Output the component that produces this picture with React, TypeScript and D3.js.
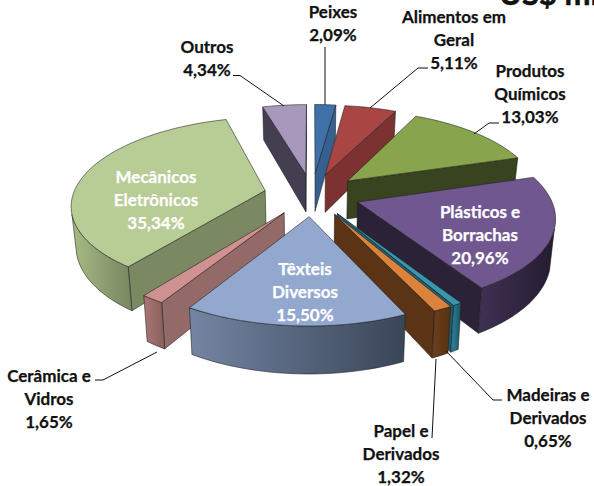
import React from "react";
import * as d3 from "d3";

const categories = [
  "Peixes", "Alimentos em Geral", "Produtos Químicos", "Plásticos e Borrachas",
  "Madeiras e Derivados", "Papel e Derivados", "Têxteis Diversos",
  "Cerâmica e Vidros", "Mecânicos Eletrônicos", "Outros",
];
const values = [2.09, 5.11, 13.03, 20.96, 0.65, 1.32, 15.5, 1.65, 35.34, 4.34];
const topColors = ["#3f70a8", "#a94543", "#88a44d", "#71578f", "#3a96ad", "#dc833b", "#92a8ce", "#d09291", "#b8cc95", "#a898bc"];
const sideColors = ["#35608f", "#7b3231", "#38431f", "#2b2238", "#1f5f70", "#5b3416", "#4f5d75", "#946a69", "#7a8962", "#433e50"];
const wallLight = ["#3c6ca0", "#8a3a38", "#5b7033", "#3e3052", "#2a7a8f", "#6a3e1b", "#7485a3", "#ab7775", "#a6bb84", "#55506a"];
const wallDark = ["#2f5580", "#682a29", "#2f381a", "#241c30", "#1a5060", "#55300f", "#394557", "#8c6260", "#7a8962", "#3a3646"];
const drawOrder = [9, 0, 1, 2, 8, 3, 4, 5, 7, 6];

const labelLines = [
  ["Peixes", "2,09%"], ["Alimentos em", "Geral", "5,11%"], ["Produtos", "Químicos", "13,03%"],
  ["Plásticos e", "Borrachas", "20,96%"], ["Madeiras e", "Derivados", "0,65%"], ["Papel e", "Derivados", "1,32%"],
  ["Têxteis", "Diversos", "15,50%"], ["Cerâmica e", "Vidros", "1,65%"], ["Mecânicos", "Eletrônicos", "35,34%"], ["Outros", "4,34%"],
];
const labelX = [333, 454, 530, 480, 548, 401, 305, 49, 156, 207];
const labelY = [18, 23, 77, 218, 401, 437, 275, 382, 183, 53];
const labelWhite = [false, false, false, true, false, false, true, false, true, false];
const leaders: ([number, number][] | null)[] = [
  [[325, 47], [325, 105]],
  [[428, 68], [418, 68], [370, 108]],
  [[499, 123], [489, 123], [474, 134]],
  null,
  [[502, 400], [493, 400], [446, 351]],
  [[432, 438], [436, 359]],
  null,
  [[95, 380], [103, 380], [157, 352]],
  null,
  [[233, 75.5], [240, 75.5], [284, 106]],
];

const cx = 312, cy = 194.5;
const A = 192, B = 85.5, P = 0.15, EXPLODE = 0.25, H = 39, BOTTOM_X = 0.98;
const FONT = "Lato, Carlito, 'Open Sans', sans-serif";

type Pt = [number, number];
const project = (U: number, V: number, low = false): Pt => {
  const s = 1 / (1 + P * V);
  const x = A * U * s;
  const y = B * V * s;
  return low ? [cx + x * BOTTOM_X, cy - y + H * s] : [cx + x, cy - y];
};

const path = d3.line<Pt>().x((d) => d[0]).y((d) => d[1]);
const poly = (pts: Pt[]) => path(pts) + "Z";

function buildSlice(arc: d3.PieArcDatum<number>) {
  const mid = (arc.startAngle + arc.endAngle) / 2;
  const ex = EXPLODE * Math.sin(mid), ey = EXPLODE * Math.cos(mid);
  const pt = (t: number, r: number, low = false) =>
    project(ex + r * Math.sin(t), ey + r * Math.cos(t), low);
  const n = Math.max(4, Math.ceil((arc.endAngle - arc.startAngle) * 40));
  const thetas = d3.range(n + 1).map((i) => arc.startAngle + ((arc.endAngle - arc.startAngle) * i) / n);
  const apex = pt(0, 0);
  const apexLow = pt(0, 0, true);
  const arcTop = thetas.map((t) => pt(t, 1));
  const arcLow = thetas.map((t) => pt(t, 1, true));
  const m = pt(mid, 1);
  const facing = (a: Pt, b: Pt, inner: Pt) => {
    const dx = b[0] - a[0], dy = b[1] - a[1];
    return dx * (inner[1] - a[1]) - dy * (inner[0] - a[0]) < 0 === dx > 0 && Math.abs(dx) > 0.5;
  };
  const radial: string[] = [];
  if (facing(apex, arcTop[0], m)) radial.push(poly([apex, arcTop[0], arcLow[0], apexLow]));
  if (facing(apex, arcTop[n], m)) radial.push(poly([apex, arcTop[n], arcLow[n], apexLow]));
  const idx = d3.range(n).filter((i) => facing(arcTop[i], arcTop[i + 1], apex));
  let outer: string | null = null;
  let outerX: [number, number] = [0, 1];
  if (idx.length) {
    const a = idx[0], b = idx[idx.length - 1] + 1;
    const tops = arcTop.slice(a, b + 1);
    const lows = arcLow.slice(a, b + 1).reverse();
    outer = poly([...tops, ...lows]);
    outerX = d3.extent(tops, (d) => d[0]) as [number, number];
  }
  const top = poly([apex, ...arcTop]);
  return { radial, outer, outerX, top };
}

export default function App() {
  const arcs = d3.pie<number>().sort(null).startAngle(0).endAngle(2 * Math.PI)(values);
  const slices = arcs.map(buildSlice);
  const edge = { stroke: "#1c1c1c", strokeWidth: 0.7, strokeLinejoin: "round" as const, strokeOpacity: 0.8 };
  return (
    <svg
      width={594}
      height={486}
      viewBox="0 0 594 486"
      style={{ position: "absolute", left: 0, top: 0, background: "#fff" }}
    >
      <defs>
        {slices.map((s, i) => (
          <linearGradient key={i} id={`wall${i}`} gradientUnits="userSpaceOnUse" x1={s.outerX[0]} x2={s.outerX[1]} y1={0} y2={0}>
            <stop offset="0" stopColor={wallLight[i]} />
            <stop offset="1" stopColor={wallDark[i]} />
          </linearGradient>
        ))}
      </defs>
      <text x={499} y={5} fontFamily={FONT} fontWeight={700} fontSize={31} stroke="#111" strokeWidth={0.5} fill="#111">US$ mil</text>
      {drawOrder.map((i) => {
        const s = slices[i];
        return (
          <g key={categories[i]}>
            {s.radial.map((d, j) => <path key={j} d={d} fill={sideColors[i]} {...edge} />)}
            {s.outer && <path d={s.outer} fill={`url(#wall${i})`} {...edge} />}
            <path d={s.top} fill={topColors[i]} {...edge} />
          </g>
        );
      })}
      {leaders.map((l, i) =>
        l ? <path key={i} d={path(l as Pt[]) as string} fill="none" stroke="#111" strokeWidth={1} /> : null
      )}
      {labelLines.map((lines, i) => (
        <text
          key={i}
          fontFamily={FONT}
          fontWeight={700}
          fontSize={17}
          textAnchor="middle"
          fill={labelWhite[i] ? "#fff" : "#111"}
          stroke={labelWhite[i] ? "#fff" : "#111"}
          strokeWidth={0.25}
        >
          {lines.map((t, j) => (
            <tspan key={j} x={labelX[i]} y={labelY[i] + j * 22.8}>{t}</tspan>
          ))}
        </text>
      ))}
    </svg>
  );
}
